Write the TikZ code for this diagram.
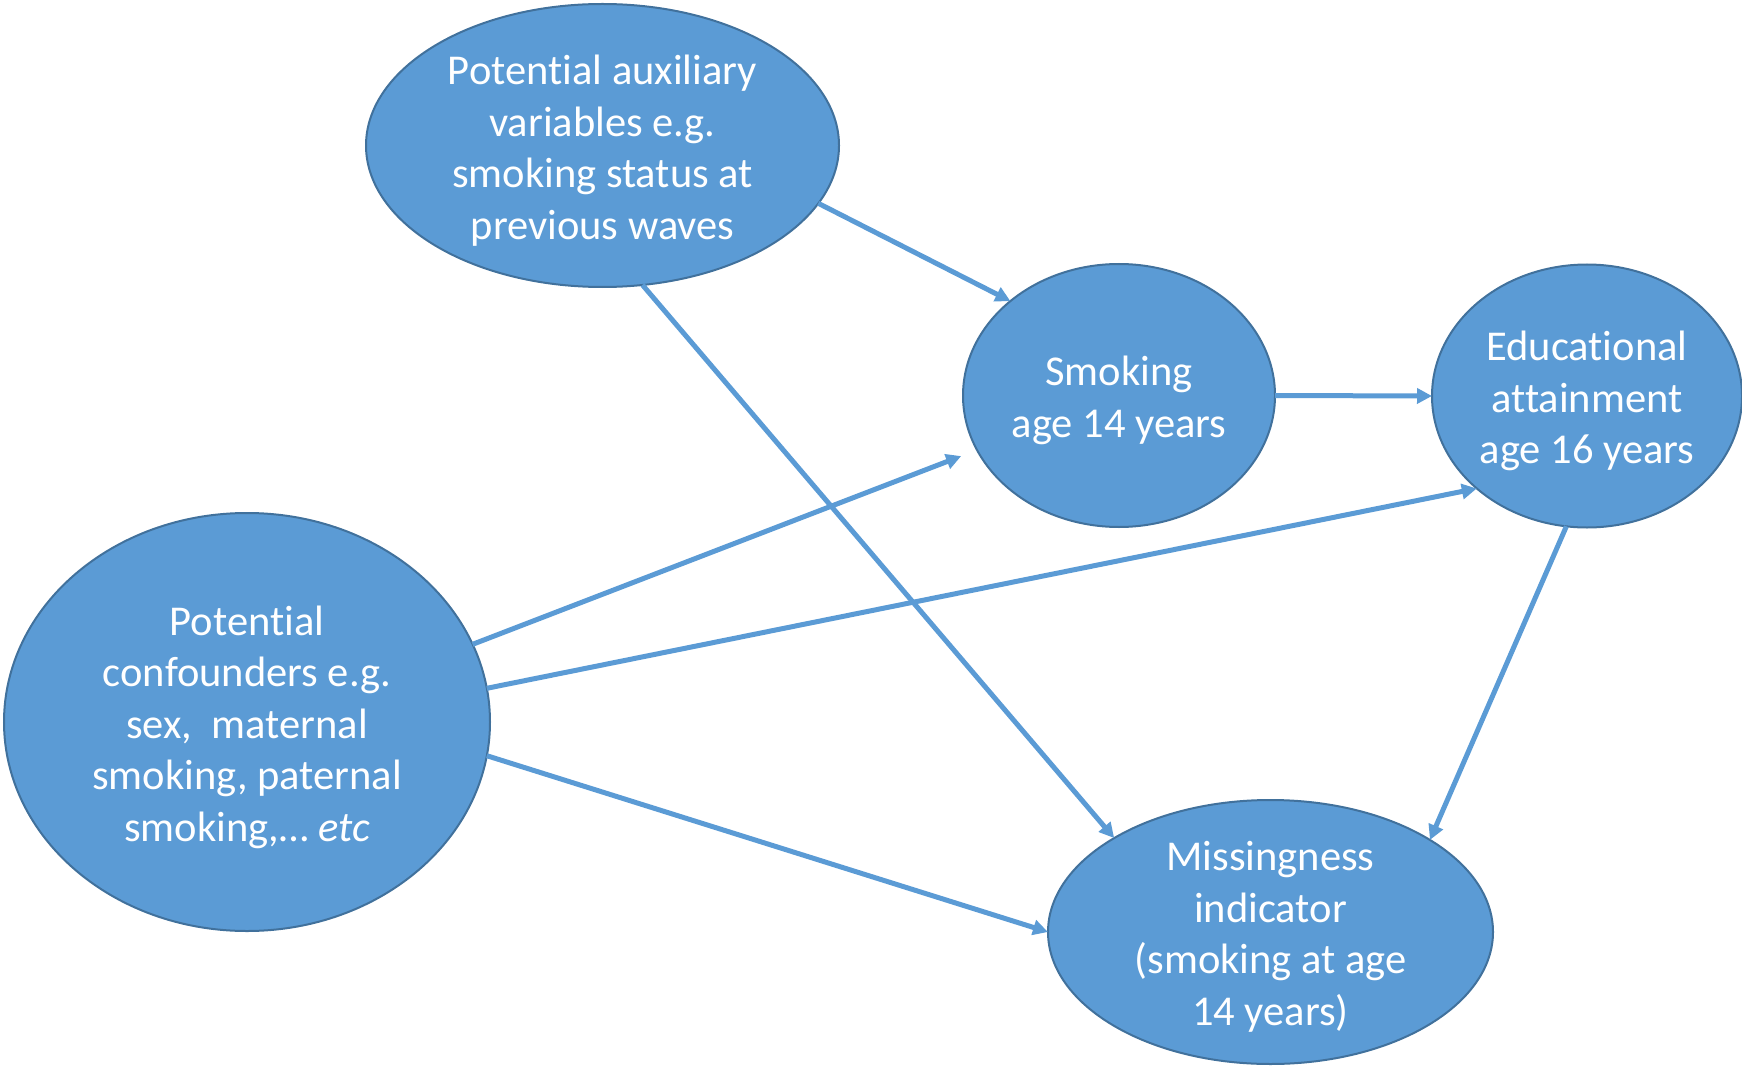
\documentclass[tikz,border=0pt]{standalone}
\usepackage{fontspec}
\setmainfont{Carlito}[Ligatures=NoCommon]
\usetikzlibrary{shapes.geometric,arrows.meta}
\definecolor{nodefill}{HTML}{5B9BD5}
\definecolor{nodeline}{HTML}{41719C}
\definecolor{arrowcol}{HTML}{5B9BD5}
\begin{document}
\begin{tikzpicture}[x=1pt,y=-1pt,
  oval/.style={ellipse, draw=nodeline, line width=2pt, fill=nodefill, inner sep=0pt, outer sep=0pt},
  lbl/.style={text=white, align=center, inner sep=0pt, font=\fontsize{42.5}{51.5}\selectfont},
  link/.style={draw=arrowcol, line width=5pt, -{Triangle[length=15pt,width=15pt]}}]
\useasboundingbox (0,0) rectangle (1742,1067);
\node[oval, minimum width=473pt, minimum height=283pt] (aux) at (602.5,145.5) {};
\node[oval, minimum width=312pt, minimum height=263pt] (smk) at (1119,395.5) {};
\node[oval, minimum width=310pt, minimum height=263pt] (edu) at (1587,396) {};
\node[oval, minimum width=486pt, minimum height=418pt] (conf) at (247,722) {};
\node[oval, minimum width=445pt, minimum height=264pt] (miss) at (1270.5,932) {};
\node[lbl] (auxt) at ([yshift=-5pt]aux.center)
  {Potential auxiliary\\variables e.g.\\smoking status at\\previous waves};
\node[lbl] (smkt) at ([yshift=-5pt]smk.center) {Smoking\\age 14 years};
\node[lbl] (edut) at ([yshift=-5pt]edu.center) {Educational\\attainment\\age 16 years};
\node[lbl] (conft) at ([yshift=-5pt]conf.center)
  {Potential\\confounders e.g.\\sex,\ \ maternal\\smoking, paternal\\smoking,\dots{} \textit{etc}};
\node[lbl] (misst) at ([yshift=-5pt]miss.center)
  {Missingness\\indicator\\(smoking at age\\14 years)};
\draw[link] (aux.-15) -- (smk.139.4);
\draw[link] (aux.-74.2) -- (miss.149);
\draw[link, shorten >=17pt] (conf.19.9) -- (smk.201.3);
\draw[link] (conf.8) -- (edu.220);
\draw[link] (conf.-8.9) -- (miss.180);
\draw[link] (smk.0.7) -- (edu.180);
\draw[link] (edu.261.9) -- (miss.30.7);
\end{tikzpicture}
\end{document}
